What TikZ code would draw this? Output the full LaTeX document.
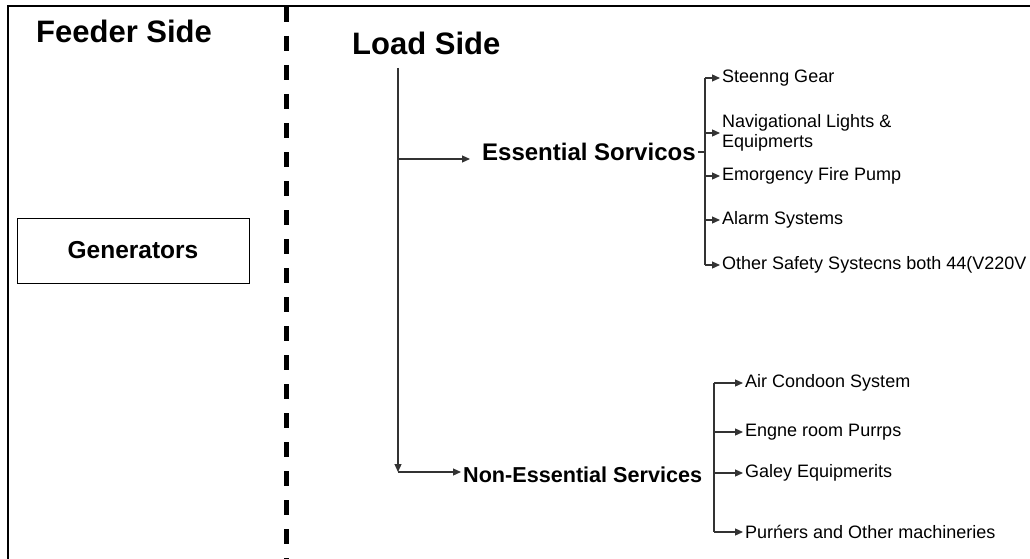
\documentclass[tikz,border=0pt]{standalone}
\usepackage{fontspec}
\setmainfont{Liberation Sans}
\usetikzlibrary{arrows.meta}
\tikzset{
  feed/.style={draw=black!80, line width=1.2pt, -{Triangle[length=8pt,width=7pt]}},
  wire/.style={draw=black!80, line width=1.2pt},
  title/.style={font=\bfseries\fontsize{31}{36}\selectfont, anchor=base west, inner sep=0pt},
  group/.style={font=\bfseries\fontsize{24}{28}\selectfont, anchor=west, inner sep=2pt},
  item/.style={font=\fontsize{18}{20}\selectfont, anchor=west, inner sep=2pt, align=left},
}
\begin{document}
\begin{tikzpicture}[x=1pt,y=-1pt]
  \useasboundingbox (0,0) rectangle (1030,559);
  % frame and divider
  \draw[line width=2.5pt] (8,559) -- (8,6) -- (1030,6);
  \draw[line width=5pt, dash pattern=on 15pt off 14pt] (286,7) -- (286,559);

  \node[title] (feeder) at (36,43) {Feeder Side};
  \node[title] (load) at (352,55) {Load Side};
  \node[draw, line width=1pt, minimum width=232pt, minimum height=65pt,
        font=\bfseries\fontsize{24.5}{28}\selectfont] (gen) at (133,250.5) {Generators};

  % load side trunk
  \coordinate (trunk) at (398,68);
  \coordinate (trunkend) at (398,472);
  \node[group] (ess) at (480,152) {Essential Sorvicos};
  \node[group, font=\bfseries\fontsize{21.6}{25}\selectfont] (ness) at (461,475) {Non-Essential Services};
  \coordinate (essin) at ([yshift=-7pt,xshift=-10pt]ess.west);
  \coordinate (nessin) at ([yshift=3pt]ness.west);
  \draw[feed] (trunk) -- (trunkend);
  \draw[feed] (trunk |- essin) -- (essin);
  \draw[feed] (trunkend) -- (nessin);

  % essential services
  \coordinate (ebus) at (705,152);
  \foreach \name/\y/\txt in {steer/78/Steenng Gear,
      nav/133/{Navigational Lights \&\\Equipmerts},
      fire/176/Emorgency Fire Pump,
      alarm/220/Alarm Systems,
      other/265/Other Safety Systecns both 44(V220V}
    \node[item] (\name) at (720,\y) {\txt};
  \draw[wire] (ess.east) -- (ebus);
  \draw[wire] (ebus |- steer.west) -- (ebus |- other.west);
  \foreach \name in {steer,nav,fire,alarm,other}
    \draw[feed] (ebus |- \name.west) -- (\name.west);

  % non-essential services
  \coordinate (nbus) at (714,473);
  \foreach \name/\y/\txt in {air/383/Air Condoon System,
      pumps/432/Engne room Purrps,
      galley/473/Galey Equipmerits,
      purif/532/Purńers and Other machineries}
    \node[item] (\name) at (743,\y) {\txt};
  \draw[wire] (nbus |- air.west) -- (nbus |- purif.west);
  \foreach \name in {air,pumps,galley,purif}
    \draw[feed] (nbus |- \name.west) -- (\name.west);
\end{tikzpicture}
\end{document}
